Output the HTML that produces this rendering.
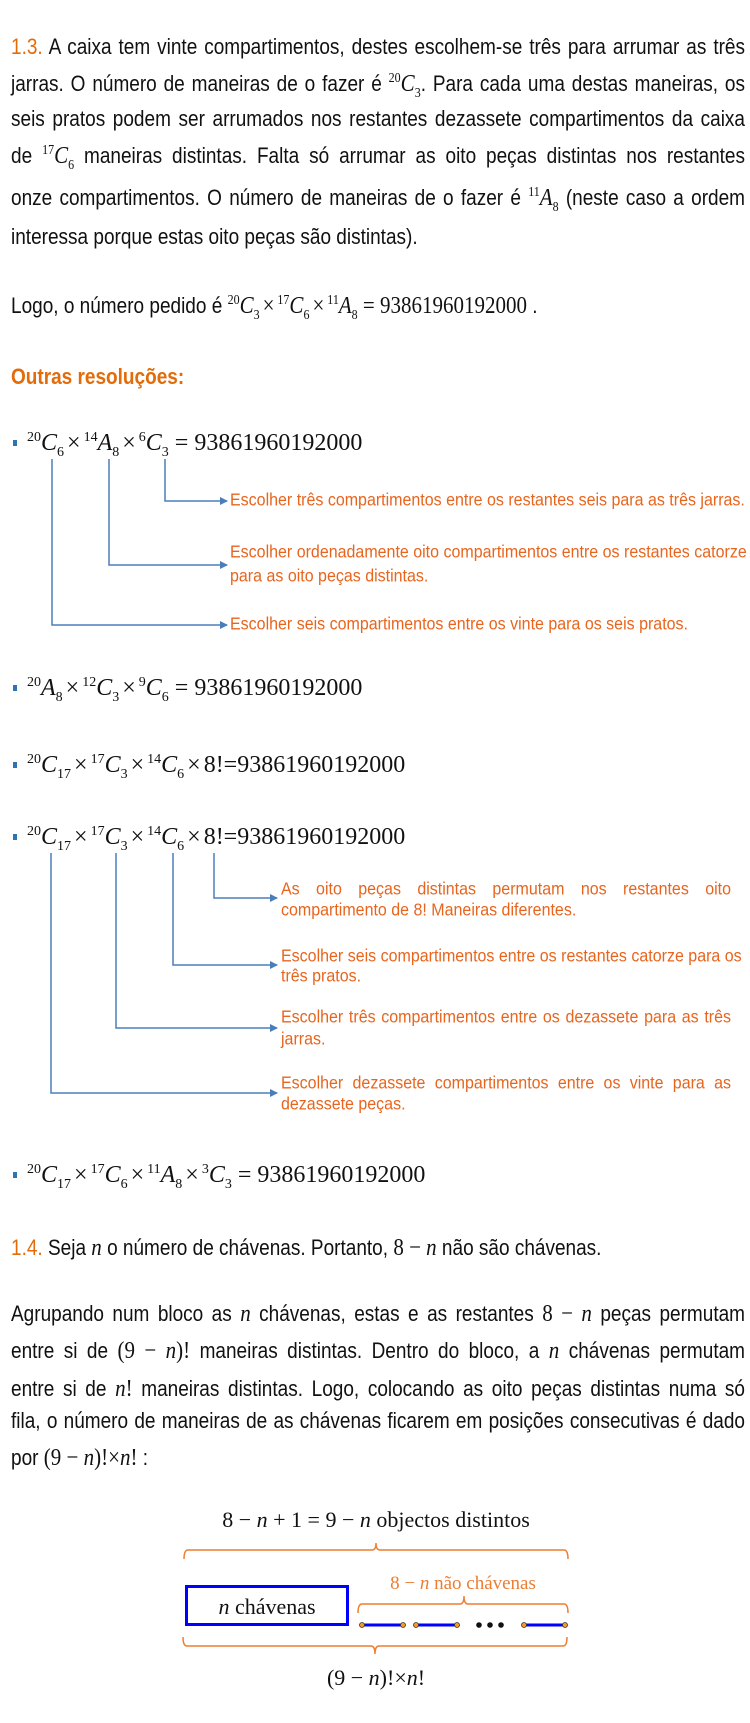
<!DOCTYPE html>
<html><head><meta charset="utf-8">
<style>
html,body{margin:0;padding:0;background:#fff;}
body{width:750px;height:1723px;position:relative;overflow:hidden;}
.t{position:absolute;font-family:"Liberation Sans",sans-serif;font-size:19px;line-height:20px;height:20px;transform:scaleY(1.15);transform-origin:left center;white-space:nowrap;color:#111;}
.j{text-align:justify;text-align-last:justify;width:734px;left:11px;}
.o{color:#e8651e;font-size:16px;line-height:18px;height:18px;transform:scaleY(1.12);}
.oj{text-align:justify;text-align-last:justify;width:450px;}
.or{color:#e36c0a;}
.m{font-family:"Liberation Serif",serif;font-size:21px;}
.m i{font-style:italic;}
.m sup,.m sub{font-size:12px;line-height:0;}
.f{position:absolute;font-family:"Liberation Serif",serif;font-size:24px;line-height:28px;white-space:nowrap;color:#111;}
.f i{font-style:italic;}
.f sup,.f sub{font-size:14px;line-height:0;}
.x{margin:0 3px;}
.b{position:absolute;width:4px;height:6px;background:#2e74b5;left:13px;}
svg{position:absolute;left:0;top:0;}
</style></head><body>

<div class="t j" style="top:38px"><span class="or">1.3.</span> A caixa tem vinte compartimentos, destes escolhem-se três para arrumar as três</div>
<div class="t j" style="top:73px">jarras. O número de maneiras de o fazer é <span class="m"><sup>20</sup><i>C</i><sub>3</sub></span>. Para cada uma destas maneiras, os</div>
<div class="t j" style="top:110px">seis pratos podem ser arrumados nos restantes dezassete compartimentos da caixa</div>
<div class="t j" style="top:145px">de <span class="m"><sup>17</sup><i>C</i><sub>6</sub></span> maneiras distintas. Falta só arrumar as oito peças distintas nos restantes</div>
<div class="t j" style="top:187px">onze compartimentos. O número de maneiras de o fazer é <span class="m"><sup>11</sup><i>A</i><sub>8</sub></span> (neste caso a ordem</div>
<div class="t" style="top:228px;left:11px">interessa porque estas oito peças são distintas).</div>

<div class="t" style="top:295px;left:11px">Logo, o número pedido é <span class="m"><sup>20</sup><i>C</i><sub>3</sub><span class="x">×</span><sup>17</sup><i>C</i><sub>6</sub><span class="x">×</span><sup>11</sup><i>A</i><sub>8</sub> = 93861960192000</span> .</div>

<div class="t" style="top:368px;left:11px;color:#e36c0a;font-weight:bold">Outras resoluções:</div>

<div class="b" style="top:440px"></div>
<div class="f" style="top:429px;left:27px"><sup>20</sup><i>C</i><sub>6</sub><span class="x">×</span><sup>14</sup><i>A</i><sub>8</sub><span class="x">×</span><sup>6</sup><i>C</i><sub>3</sub> = 93861960192000</div>

<div class="t o" style="top:492px;left:230px">Escolher três compartimentos entre os restantes seis para as três jarras.</div>
<div class="t o" style="top:544px;left:230px;width:506px;text-align:justify;text-align-last:justify">Escolher ordenadamente oito compartimentos entre os restantes catorze</div>
<div class="t o" style="top:568px;left:230px">para as oito peças distintas.</div>
<div class="t o" style="top:616px;left:230px">Escolher seis compartimentos entre os vinte para os seis pratos.</div>

<div class="b" style="top:685px"></div>
<div class="f" style="top:674px;left:27px"><sup>20</sup><i>A</i><sub>8</sub><span class="x">×</span><sup>12</sup><i>C</i><sub>3</sub><span class="x">×</span><sup>9</sup><i>C</i><sub>6</sub> = 93861960192000</div>
<div class="b" style="top:762px"></div>
<div class="f" style="top:751px;left:27px"><sup>20</sup><i>C</i><sub>17</sub><span class="x">×</span><sup>17</sup><i>C</i><sub>3</sub><span class="x">×</span><sup>14</sup><i>C</i><sub>6</sub><span class="x">×</span>8!=93861960192000</div>
<div class="b" style="top:834px"></div>
<div class="f" style="top:823px;left:27px"><sup>20</sup><i>C</i><sub>17</sub><span class="x">×</span><sup>17</sup><i>C</i><sub>3</sub><span class="x">×</span><sup>14</sup><i>C</i><sub>6</sub><span class="x">×</span>8!=93861960192000</div>

<div class="t o oj" style="top:881px;left:281px">As oito peças distintas permutam nos restantes oito</div>
<div class="t o" style="top:902px;left:281px">compartimento de 8! Maneiras diferentes.</div>
<div class="t o oj" style="top:948px;left:281px">Escolher seis compartimentos entre os restantes catorze para os</div>
<div class="t o" style="top:968px;left:281px">três pratos.</div>
<div class="t o oj" style="top:1009px;left:281px">Escolher três compartimentos entre os dezassete para as três</div>
<div class="t o" style="top:1031px;left:281px">jarras.</div>
<div class="t o oj" style="top:1075px;left:281px">Escolher dezassete compartimentos entre os vinte para as</div>
<div class="t o" style="top:1096px;left:281px">dezassete peças.</div>

<div class="b" style="top:1172px"></div>
<div class="f" style="top:1161px;left:27px"><sup>20</sup><i>C</i><sub>17</sub><span class="x">×</span><sup>17</sup><i>C</i><sub>6</sub><span class="x">×</span><sup>11</sup><i>A</i><sub>8</sub><span class="x">×</span><sup>3</sup><i>C</i><sub>3</sub> = 93861960192000</div>

<div class="t" style="top:1237px;left:11px"><span class="or">1.4.</span> Seja <span class="m"><i>n</i></span> o número de chávenas. Portanto, <span class="m">8 − <i>n</i></span> não são chávenas.</div>

<div class="t j" style="top:1303px">Agrupando num bloco as <span class="m"><i>n</i></span> chávenas, estas e as restantes <span class="m">8 − <i>n</i></span> peças permutam</div>
<div class="t j" style="top:1340px">entre si de <span class="m">(9 − <i>n</i>)!</span> maneiras distintas. Dentro do bloco, a <span class="m"><i>n</i></span> chávenas permutam</div>
<div class="t j" style="top:1378px">entre si de <span class="m"><i>n</i>!</span> maneiras distintas. Logo, colocando as oito peças distintas numa só</div>
<div class="t j" style="top:1412px">fila, o número de maneiras de as chávenas ficarem em posições consecutivas é dado</div>
<div class="t" style="top:1447px;left:11px">por <span class="m">(9 − <i>n</i>)!×<i>n</i>!</span> :</div>

<div class="f" style="top:1506px;left:200px;width:352px;text-align:center;font-size:22px">8 − <i>n</i> + 1 = 9 − <i>n</i> objectos distintos</div>
<div class="f" style="top:1593px;left:185px;width:164px;text-align:center;font-size:22px"><i>n</i> chávenas</div>
<div class="f" style="top:1570px;left:375px;width:176px;text-align:center;font-size:19px;color:#ed7d31">8 − <i>n</i> não chávenas</div>
<div class="f" style="top:1664px;left:290px;width:172px;text-align:center;font-size:22px">(9 − <i>n</i>)!×<i>n</i>!</div>

<svg width="750" height="1723" xmlns="http://www.w3.org/2000/svg">
<defs><marker id="a" markerWidth="8" markerHeight="8" refX="7" refY="4" orient="auto" markerUnits="userSpaceOnUse"><path d="M0,0 L8,4 L0,8 z" fill="#4a7ebb"/></marker></defs>
<g stroke="#4a7ebb" stroke-width="1.5" fill="none">
<path d="M165,459 V501 H227" marker-end="url(#a)"/>
<path d="M109,459 V565 H227" marker-end="url(#a)"/>
<path d="M52,459 V625 H227" marker-end="url(#a)"/>
<path d="M214,853 V898 H277" marker-end="url(#a)"/>
<path d="M173,853 V965 H277" marker-end="url(#a)"/>
<path d="M116,853 V1028 H277" marker-end="url(#a)"/>
<path d="M51,853 V1093 H277" marker-end="url(#a)"/>
</g>
<g stroke="#ed7d31" stroke-width="1.5" fill="none">
<path d="M184,1559 Q184,1550 188,1550 H372 Q376,1550 376,1543 Q376,1550 380,1550 H564 Q568,1550 568,1559"/>
<path d="M358,1613 Q358,1604 362,1604 H460 Q464,1604 464,1596 Q464,1604 468,1604 H564 Q568,1604 568,1613"/>
<path d="M183,1637 Q183,1646 187,1646 H371 Q375,1646 375,1654 Q375,1646 379,1646 H563 Q567,1646 567,1637"/>
</g>
<rect x="186.5" y="1586.5" width="161" height="38" fill="none" stroke="#0000ff" stroke-width="3"/>
<g stroke="#0000ff" stroke-width="3">
<line x1="362" y1="1625" x2="403" y2="1625"/>
<line x1="416" y1="1625" x2="457" y2="1625"/>
<line x1="524" y1="1625" x2="565" y2="1625"/>
</g>
<g fill="#f59a23" stroke="#333" stroke-width="0.8">
<circle cx="362" cy="1625" r="2.5"/><circle cx="403" cy="1625" r="2.5"/>
<circle cx="416" cy="1625" r="2.5"/><circle cx="457" cy="1625" r="2.5"/>
<circle cx="524" cy="1625" r="2.5"/><circle cx="565" cy="1625" r="2.5"/>
</g>
<g fill="#111"><circle cx="479" cy="1625" r="2.8"/><circle cx="490" cy="1625" r="2.8"/><circle cx="501" cy="1625" r="2.8"/></g>
</svg>
</body></html>
